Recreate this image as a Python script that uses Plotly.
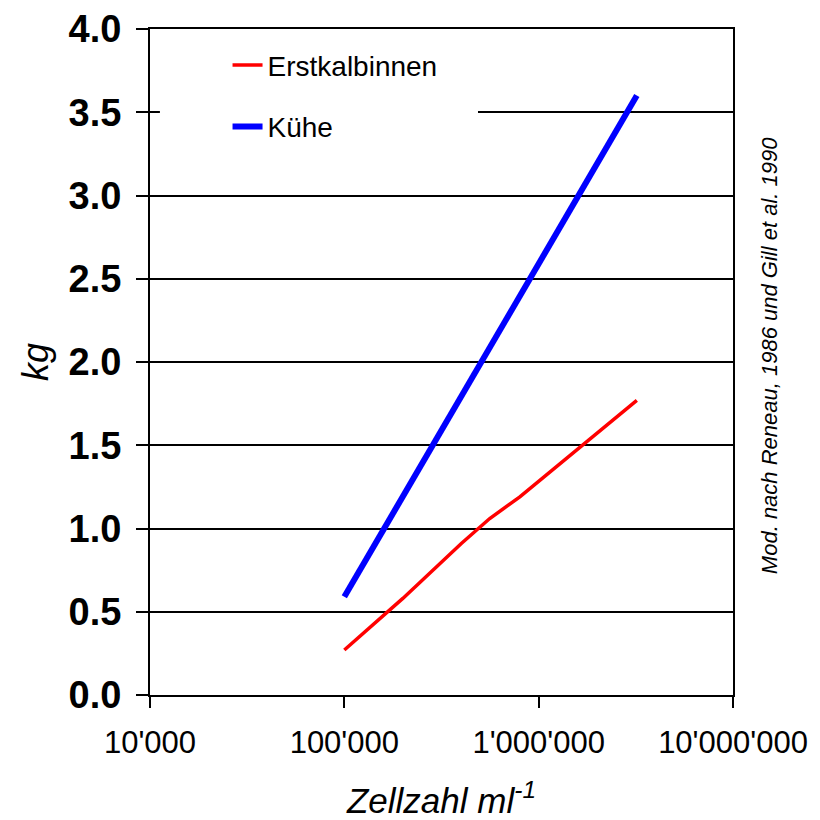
import plotly.graph_objects as go

# Data
cells_heifers = [100000, 200000, 400000, 560000, 800000, 1600000, 3200000]
loss_heifers = [0.27, 0.58, 0.91, 1.06, 1.19, 1.48, 1.77]
cells_cows = [100000, 200000, 400000, 800000, 1600000, 3200000]
loss_cows = [0.59, 1.19, 1.79, 2.39, 2.99, 3.60]

x_tickvals = [10000, 100000, 1000000, 10000000]
x_ticktext = ["10'000", "100'000", "1'000'000", "10'000'000"]
y_tickvals = [0, 0.5, 1.0, 1.5, 2.0, 2.5, 3.0, 3.5, 4.0]
y_ticktext = ["0.0", "0.5", "1.0", "1.5", "2.0", "2.5", "3.0", "3.5", "4.0"]

FONT = "Liberation Sans, Arial, sans-serif"

fig = go.Figure()
fig.add_trace(go.Scatter(x=cells_heifers, y=loss_heifers, mode="lines",
                         name="Erstkalbinnen", legendgroup="a",
                         line=dict(color="#ff0000", width=3.5)))
fig.add_trace(go.Scatter(x=cells_cows, y=loss_cows, mode="lines",
                         name="Kühe", legendgroup="b",
                         line=dict(color="#0000ff", width=6)))

# white background behind the legend (covers the 3.5 grid line)
fig.add_shape(type="rect", xref="paper", yref="y", x0=0.017, x1=0.5626,
              y0=3.25, y1=3.9, fillcolor="white", line=dict(width=0),
              layer="above")

fig.update_layout(
    width=812, height=812,
    margin=dict(l=142, r=87, t=21, b=125),
    paper_bgcolor="white", plot_bgcolor="white",
    font=dict(family=FONT, color="black"),
    showlegend=True,
    legend=dict(x=0.133, y=0.983, xanchor="left", yanchor="top",
                bgcolor="white", borderwidth=0,
                font=dict(size=28, family=FONT, color="black"),
                tracegroupgap=22, itemwidth=30),
    xaxis=dict(type="log", range=[4, 7], tickvals=x_tickvals, ticktext=x_ticktext,
               tickfont=dict(size=31, family=FONT), ticks="outside", ticklen=11,
               tickwidth=2, tickcolor="black", ticklabelstandoff=8,
               showgrid=False, zeroline=False, automargin=False,
               showline=True, linecolor="black", linewidth=2, mirror=True,
               title=dict(text="<i>Zellzahl ml<sup>-1</sup></i>",
                          font=dict(size=35, family=FONT), standoff=36)),
    yaxis=dict(range=[0, 4], tickvals=y_tickvals, ticktext=y_ticktext,
               tickfont=dict(size=38, family=FONT, weight="bold"),
               ticks="outside", ticklen=12, tickwidth=2, tickcolor="black",
               ticklabelstandoff=7, automargin=False,
               showgrid=True, gridcolor="black", gridwidth=2, zeroline=False,
               showline=True, linecolor="black", linewidth=2, mirror=True,
               title=dict(text="<i>kg</i>", font=dict(size=36, family=FONT), standoff=9)),
    annotations=[dict(text="<i>Mod. nach Reneau, 1986 und Gill et al. 1990</i>",
                      xref="paper", yref="paper", x=1.088, y=0.51,
                      showarrow=False, textangle=-90,
                      font=dict(size=22, family=FONT, color="black"))],
)

fig.write_html("out.html")
